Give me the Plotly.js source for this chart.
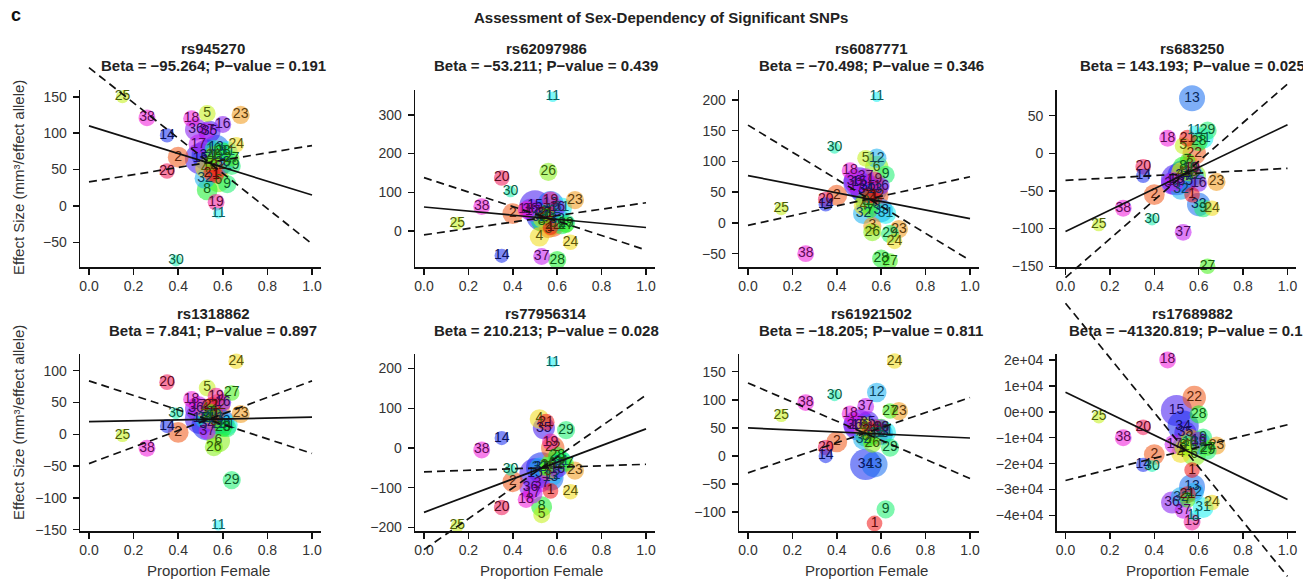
<!DOCTYPE html>
<html><head><meta charset="utf-8">
<script src="https://cdn.plot.ly/plotly-3.0.1.min.js"></script>
<style>html,body{margin:0;padding:0;background:#fff;}#chart{width:1303px;height:585px;}</style>
</head><body><div id="chart"></div>
<script>
// ---------------- DATA ----------------
const cohortIds = [1,2,3,4,5,6,7,8,9,10,11,12,13,14,15,16,17,18,19,20,21,22,23,24,25,26,27,28,29,30,31,32,33,34,35,36,37,38];
const propFemale = [0.57,0.40,0.56,0.52,0.53,0.58,0.55,0.53,0.62,0.56,0.58,0.58,0.57,0.35,0.50,0.60,0.49,0.46,0.57,0.35,0.55,0.58,0.68,0.66,0.15,0.56,0.64,0.60,0.64,0.39,0.62,0.52,0.60,0.53,0.54,0.48,0.53,0.26];
const cohortWeight = [12,16,14,15,13,18,12,16,14,14,8,15,20,11,24,13,15,13,13,12,13,18,14,12,10,14,12,14,14,9,16,16,18,24,17,17,13,13];

const snpNames = ['rs945270','rs62097986','rs6087771','rs683250','rs1318862','rs77956314','rs61921502','rs17689882'];
const betaText = ['\u221295.264','\u221253.211','\u221270.498','143.193','7.841','210.213','\u221218.205','\u221241320.819'];
const pValueText = ['0.191','0.439','0.346','0.025','0.897','0.028','0.811','0.1'];

const effect_rs945270   = [42,67,55,52,127,35,60,22,30,78,-10,70,80,97,65,112,85,120,5,48,45,55,125,84,150,70,65,75,55,-75,75,38,60,70,102,105,103,121];
const effect_rs62097986 = [10,45,5,-15,30,20,40,25,15,50,347,55,70,-64,65,60,50,55,80,137,45,15,80,-29,20,153,15,-75,20,102,60,35,30,40,45,55,-66,63];
const effect_rs6087771  = [40,45,-5,28,105,90,20,35,78,30,205,105,55,30,65,60,60,85,70,38,45,45,-10,-30,23,-15,-62,-58,-18,122,15,15,20,55,60,68,75,-50];
const effect_rs683250   = [-55,-55,-15,-25,10,-30,-10,-18,-73,-20,30,-30,73,-30,-35,-40,-38,20,-20,-18,20,0,-38,-73,-95,-25,-150,15,30,-88,20,-48,-68,-30,-38,-40,-105,-73];
const effect_rs1318862  = [30,3,20,40,73,-10,35,25,10,30,-143,15,25,13,25,50,45,55,60,82,45,45,32,115,-2,-20,65,10,-72,33,15,25,20,15,35,40,5,-22];
const effect_rs77956314 = [-108,-85,-60,73,-168,-40,-50,-148,-30,-45,216,-70,-75,25,-65,-55,-115,-130,15,-150,65,0,-57,-110,-196,-45,-40,-20,45,-55,-35,-50,-45,-50,50,-100,-90,-5];
const effect_rs61921502 = [-120,25,40,50,55,45,30,35,-95,45,40,113,-15,0,55,50,60,75,50,15,45,40,80,169,72,22,80,50,15,108,42,30,40,-15,60,55,88,95];
const effect_rs17689882 = [-22500,-16500,-10000,-16000,-14000,-16500,-34000,-13000,-10000,-12000,-40000,-31000,-29000,-20500,500,-11000,-12500,20000,-42500,-6000,-32000,5500,-13000,-35000,-2000,-13500,-14000,-1000,-15000,-21000,-37000,-33000,-12000,-5500,-8000,-35000,-38000,-10000];
const effects = [effect_rs945270,effect_rs62097986,effect_rs6087771,effect_rs683250,effect_rs1318862,effect_rs77956314,effect_rs61921502,effect_rs17689882];

// regression line (fit) and the two dashed bounding lines, value at x=0 and x=1
const fitAt0 = [110,62,77,-104,20,-162,50,7500];
const fitAt1 = [15,9,7,38,27,48,32,-33820];
const boundA0 = [190,138,159,-165,84,-256,130,41900];
const boundA1 = [-52,-49,-61,92,-30,133,-40,-63500];
const boundB0 = [33,-10,-4,-36,-46,-60,-30,-26500];
const boundB1 = [83,73,75,-20,84,-41,104,-5000];

const xTickVals = [0,0.2,0.4,0.6,0.8,1.0];
const xTickText = ['0.0','0.2','0.4','0.6','0.8','1.0'];
const yTickVals = [
  [-50,0,50,100,150],
  [0,100,200,300],
  [-50,0,50,100,150,200],
  [-150,-100,-50,0,50],
  [-150,-100,-50,0,50,100],
  [-200,-100,0,100,200],
  [-100,-50,0,50,100,150],
  [-40000,-30000,-20000,-10000,0,10000,20000]
];
const yTickText8 = ['\u22124e+04','\u22123e+04','\u22122e+04','\u22121e+04','0e+00','1e+04','2e+04'];

// ---------------- LAYOUT GEOMETRY ----------------
const W = 1303, H = 585;
const colX0 = [89, 424, 748, 1065.5];
const colX1 = [312, 646, 970, 1287.5];
const rowTop = [90, 354], rowBot = [267, 531];
const yRanges = [[-83.8,159.3],[-93,364.3],[-71.7,216.1],[-151,84],[-152,126.3],[-209,236.6],[-133.5,181.5],[-46000,22300]];
const titleCX = [213, 546, 871, 1192];
const FONT = 'Liberation Sans, Arial, Helvetica, sans-serif';

function hue(id){ return ((id-1)%20)*18; }
const markerColors = cohortIds.map(id => `hsla(${hue(id)},88%,52%,0.8)`);
const textColors = cohortIds.map(id => `hsl(${hue(id)},80%,20%)`);

const px2x = p => p / W;
const px2y = p => 1 - p / H;

const traces = [];
const layout = {
  width: W, height: H,
  margin: {l:0,r:0,t:0,b:0},
  paper_bgcolor: '#ffffff',
  plot_bgcolor: 'rgba(0,0,0,0)',
  showlegend: false,
  font: {family: FONT, color: '#222'},
  annotations: []
};

for (let p = 0; p < 8; p++) {
  const col = p % 4, row = Math.floor(p / 4);
  const w = colX1[col] - colX0[col];
  const dx0 = px2x(colX0[col] - 0.04 * w), dx1 = px2x(colX1[col] + 0.04 * w);
  const dy0 = px2y(rowBot[row]), dy1 = px2y(rowTop[row]);
  const xr = [-0.04, 1.04], yr = yRanges[p];
  const n = p + 1, m = p + 9;

  layout['xaxis' + n] = {
    domain: [dx0, dx1], range: xr, anchor: 'y' + n,
    tickvals: xTickVals, ticktext: xTickText,
    ticks: 'outside', ticklen: 6, tickwidth: 1.5, tickcolor: '#111',
    showline: true, linecolor: '#111', linewidth: 1.5,
    showgrid: false, zeroline: false, fixedrange: true,
    tickfont: {family: FONT, size: 14, color: '#333'}
  };
  const ya = {
    domain: [dy0, dy1], range: yr, anchor: 'x' + n,
    tickvals: yTickVals[p],
    ticks: 'outside', ticklen: 6, tickwidth: 1.5, tickcolor: '#111',
    showline: true, linecolor: '#111', linewidth: 1.5,
    showgrid: false, zeroline: false, fixedrange: true,
    ticklabelstandoff: 3,
    tickfont: {family: FONT, size: 14, color: '#333'}
  };
  if (p === 7) ya.ticktext = yTickText8;
  layout['yaxis' + n] = ya;

  // overlay axes with same scale, spanning full figure (lines are not clipped to the panel)
  const kx = (xr[1] - xr[0]) / (dx1 - dx0);
  const ky = (yr[1] - yr[0]) / (dy1 - dy0);
  layout['xaxis' + m] = {domain: [0,1], range: [xr[0] - dx0 * kx, xr[1] + (1 - dx1) * kx], anchor: 'y' + m, visible: false, fixedrange: true};
  layout['yaxis' + m] = {domain: [0,1], range: [yr[0] - dy0 * ky, yr[1] + (1 - dy1) * ky], anchor: 'x' + m, visible: false, fixedrange: true};

  // points, larger first so small ones sit on top
  const order = cohortIds.map((_, i) => i).sort((a, b) => cohortWeight[b] - cohortWeight[a]);
  traces.push({
    type: 'scatter', mode: 'markers+text',
    x: order.map(i => propFemale[i]), y: order.map(i => effects[p][i]),
    text: order.map(i => String(cohortIds[i])),
    textposition: 'middle center',
    textfont: {family: FONT, size: 14, color: order.map(i => textColors[i])},
    marker: {size: order.map(i => cohortWeight[i] * 1.3), color: order.map(i => markerColors[i]), line: {width: 0}},
    cliponaxis: false, hoverinfo: 'skip',
    xaxis: 'x' + n, yaxis: 'y' + n
  });
  // lines
  const lines = [
    {y: [fitAt0[p], fitAt1[p]], dash: 'solid'},
    {y: [boundA0[p], boundA1[p]], dash: '8px,5px'},
    {y: [boundB0[p], boundB1[p]], dash: '8px,5px'}
  ];
  lines.forEach(L => traces.push({
    type: 'scatter', mode: 'lines', x: [0, 1], y: L.y,
    line: {color: '#111', width: 1.7, dash: L.dash},
    hoverinfo: 'skip', xaxis: 'x' + m, yaxis: 'y' + m
  }));

  // panel titles
  const tTop = row === 0 ? 48 : 313;
  layout.annotations.push({
    xref: 'paper', yref: 'paper', x: px2x(titleCX[col]), y: px2y(tTop),
    xanchor: 'center', yanchor: 'middle', showarrow: false,
    text: '<b>' + snpNames[p] + '</b>', font: {family: FONT, size: 15, color: '#222'}
  });
  const betaLine = '<b>Beta = ' + betaText[p] + '; P\u2212value = ' + pValueText[p] + '</b>';
  if (p === 7) {
    layout.annotations.push({
      xref: 'paper', yref: 'paper', x: px2x(1067), y: px2y(tTop + 17),
      xanchor: 'left', yanchor: 'middle', showarrow: false,
      text: betaLine, font: {family: FONT, size: 15, color: '#222'}
    });
  } else {
    layout.annotations.push({
      xref: 'paper', yref: 'paper', x: px2x(titleCX[col]), y: px2y(tTop + 17),
      xanchor: 'center', yanchor: 'middle', showarrow: false,
      text: betaLine, font: {family: FONT, size: 15, color: '#222'}
    });
  }
  if (row === 1) {
    layout.annotations.push({
      xref: 'paper', yref: 'paper', x: px2x(titleCX[col] - 5), y: px2y(570),
      xanchor: 'center', yanchor: 'middle', showarrow: false,
      text: 'Proportion Female', font: {family: FONT, size: 15, color: '#333'}
    });
  }
  if (col === 0) {
    layout.annotations.push({
      xref: 'paper', yref: 'paper', x: px2x(18), y: px2y(row === 0 ? 178 : 423),
      xanchor: 'center', yanchor: 'middle', showarrow: false, textangle: -90,
      text: 'Effect Size (mm\u00b3/effect allele)', font: {family: FONT, size: 15, color: '#333'}
    });
  }
}

layout.annotations.push({
  xref: 'paper', yref: 'paper', x: px2x(661), y: px2y(17),
  xanchor: 'center', yanchor: 'middle', showarrow: false,
  text: '<b>Assessment of Sex-Dependency of Significant SNPs</b>', font: {family: FONT, size: 15, color: '#222'}
});
layout.annotations.push({
  xref: 'paper', yref: 'paper', x: px2x(9), y: px2y(15),
  xanchor: 'left', yanchor: 'middle', showarrow: false,
  text: '<b>c</b>', font: {family: FONT, size: 18, color: '#111'}
});

Plotly.newPlot('chart', traces, layout, {staticPlot: true, displayModeBar: false});
</script>
</body></html>
